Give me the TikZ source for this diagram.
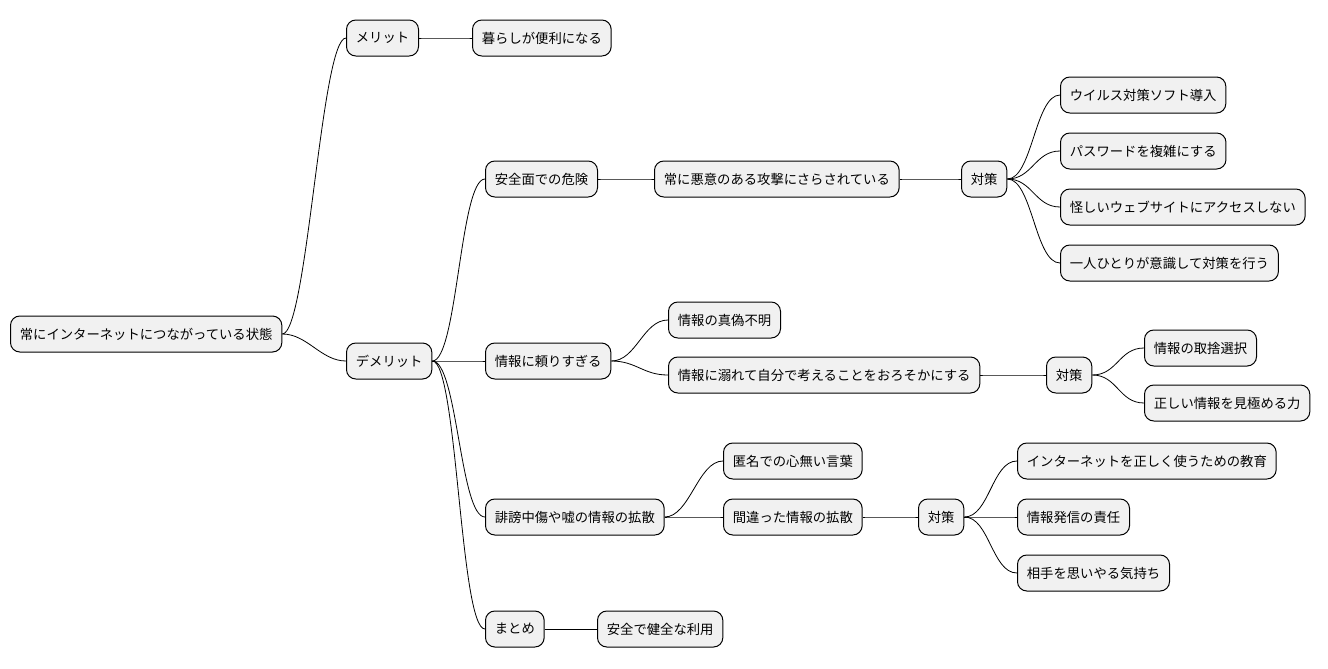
\documentclass[tikz,border=0pt]{standalone}
\usepackage{fontspec}
\setmainfont{Noto Sans CJK JP}
\definecolor{boxfill}{HTML}{F1F1F1}
\tikzset{
  topic/.style={draw, fill=boxfill, rounded corners=7pt, line width=0.75pt,
    minimum height=27pt, inner xsep=7pt, anchor=west, font=\fontsize{10}{12}\selectfont},
  branch/.style={line width=0.6pt}
}
\newcommand{\link}[2]{\draw [branch] (#1.east) .. controls +(25,0) and +(-25,0) .. (#2.west);}
\begin{document}
\begin{tikzpicture}[x=0.75pt,y=-0.75pt]
	\useasboundingbox (0,0) rectangle (1328,668);
	% root and first level
	\node [topic] (root) at (10,334) {常にインターネットにつながっている状態};
	\node [topic] (merit) at (346,38) {メリット};
	\node [topic] (benri) at (472,38) {暮らしが便利になる};
	\node [topic] (demerit) at (346,361) {デメリット};
	% safety
	\node [topic] (anzen) at (485,179) {安全面での危険};
	\node [topic] (kougeki) at (654,179) {常に悪意のある攻撃にさらされている};
	\node [topic] (taisakuA) at (961,179) {対策};
	\node [topic] (virus) at (1060,95) {ウイルス対策ソフト導入};
	\node [topic] (pass) at (1060,151) {パスワードを複雑にする};
	\node [topic] (web) at (1060,207) {怪しいウェブサイトにアクセスしない};
	\node [topic] (ishiki) at (1060,263) {一人ひとりが意識して対策を行う};
	% information
	\node [topic] (tayori) at (485,361) {情報に頼りすぎる};
	\node [topic] (shingi) at (668,320) {情報の真偽不明};
	\node [topic] (oboreru) at (668,375) {情報に溺れて自分で考えることをおろそかにする};
	\node [topic] (taisakuB) at (1046,375) {対策};
	\node [topic] (shusha) at (1144,348) {情報の取捨選択};
	\node [topic] (mikiwame) at (1144,403) {正しい情報を見極める力};
	% slander
	\node [topic] (hibou) at (485,517) {誹謗中傷や嘘の情報の拡散};
	\node [topic] (tokumei) at (723,461) {匿名での心無い言葉};
	\node [topic] (machigai) at (723,517) {間違った情報の拡散};
	\node [topic] (taisakuC) at (918,517) {対策};
	\node [topic] (kyouiku) at (1017,461) {インターネットを正しく使うための教育};
	\node [topic] (sekinin) at (1017,517) {情報発信の責任};
	\node [topic] (omoiyari) at (1017,573) {相手を思いやる気持ち};
	% summary
	\node [topic] (matome) at (485,629) {まとめ};
	\node [topic] (kenzen) at (597,629) {安全で健全な利用};
	% connectors
	\link{root}{merit}
	\link{root}{demerit}
	\link{merit}{benri}
	\link{demerit}{anzen}
	\link{demerit}{tayori}
	\link{demerit}{hibou}
	\link{demerit}{matome}
	\link{anzen}{kougeki}
	\link{kougeki}{taisakuA}
	\foreach \t in {virus,pass,web,ishiki} {\link{taisakuA}{\t}}
	\link{tayori}{shingi}
	\link{tayori}{oboreru}
	\link{oboreru}{taisakuB}
	\link{taisakuB}{shusha}
	\link{taisakuB}{mikiwame}
	\link{hibou}{tokumei}
	\link{hibou}{machigai}
	\link{machigai}{taisakuC}
	\foreach \t in {kyouiku,sekinin,omoiyari} {\link{taisakuC}{\t}}
	\link{matome}{kenzen}
\end{tikzpicture}
\end{document}
